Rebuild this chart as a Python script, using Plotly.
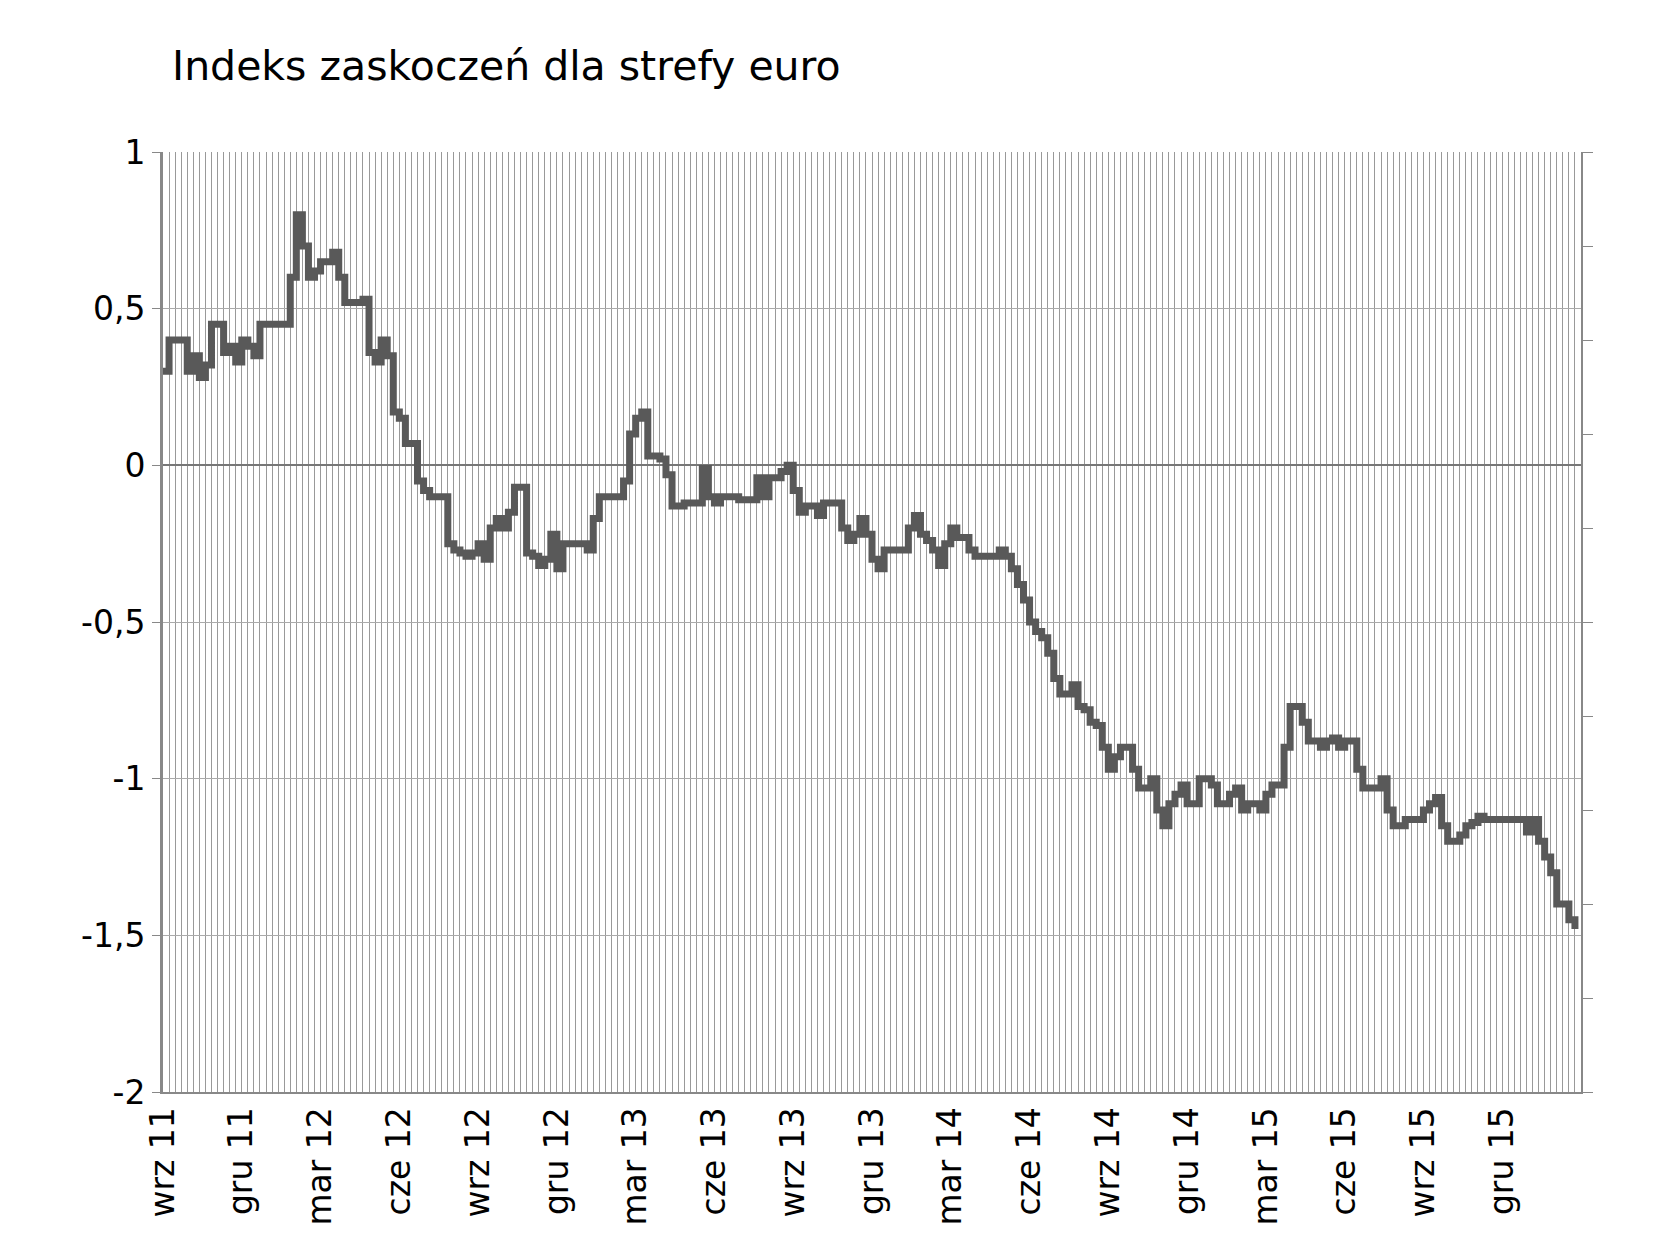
import plotly.graph_objects as go

# tygodniowe wartości indeksu (wrz 2011 - mar 2016)
values = [
    0.3, 0.4, 0.4, 0.4, 0.3, 0.35, 0.28, 0.32, 0.45, 0.45, 0.36, 0.38, 0.33,
    0.4, 0.38, 0.35, 0.45, 0.45, 0.45, 0.45, 0.45, 0.6, 0.8, 0.7, 0.6, 0.62,
    0.65, 0.65, 0.68, 0.6, 0.52, 0.52, 0.52, 0.53, 0.36, 0.33, 0.4, 0.35, 0.17,
    0.15, 0.07, 0.07, -0.05, -0.08, -0.1, -0.1, -0.1, -0.25, -0.27, -0.28, -0.29, -0.28,
    -0.25, -0.3, -0.2, -0.17, -0.2, -0.15, -0.07, -0.07, -0.28, -0.29, -0.32, -0.3, -0.22,
    -0.33, -0.25, -0.25, -0.25, -0.25, -0.27, -0.17, -0.1, -0.1, -0.1, -0.1, -0.05, 0.1,
    0.15, 0.17, 0.03, 0.03, 0.02, -0.03, -0.13, -0.13, -0.12, -0.12, -0.12, -0.01, -0.1,
    -0.12, -0.1, -0.1, -0.1, -0.11, -0.11, -0.11, -0.04, -0.1, -0.04, -0.04, -0.02, 0.0,
    -0.08, -0.15, -0.13, -0.13, -0.16, -0.12, -0.12, -0.12, -0.2, -0.24, -0.22, -0.17, -0.22,
    -0.3, -0.33, -0.27, -0.27, -0.27, -0.27, -0.2, -0.16, -0.22, -0.24, -0.27, -0.32, -0.25,
    -0.2, -0.23, -0.23, -0.27, -0.29, -0.29, -0.29, -0.29, -0.27, -0.29, -0.33, -0.38, -0.43,
    -0.5, -0.53, -0.55, -0.6, -0.68, -0.73, -0.73, -0.7, -0.77, -0.78, -0.82, -0.83, -0.9,
    -0.97, -0.93, -0.9, -0.9, -0.97, -1.03, -1.03, -1.0, -1.1, -1.15, -1.08, -1.05, -1.02,
    -1.08, -1.08, -1.0, -1.0, -1.02, -1.08, -1.08, -1.05, -1.03, -1.1, -1.08, -1.08, -1.1,
    -1.05, -1.02, -1.02, -0.9, -0.77, -0.77, -0.82, -0.88, -0.88, -0.9, -0.88, -0.87, -0.9,
    -0.88, -0.88, -0.97, -1.03, -1.03, -1.03, -1.0, -1.1, -1.15, -1.15, -1.13, -1.13, -1.13,
    -1.1, -1.08, -1.06, -1.15, -1.2, -1.2, -1.18, -1.15, -1.14, -1.12, -1.13, -1.13, -1.13,
    -1.13, -1.13, -1.13, -1.13, -1.17, -1.13, -1.2, -1.25, -1.3, -1.4, -1.4, -1.45, -1.48,
]
tick_labels = ["wrz 11", "gru 11", "mar 12", "cze 12", "wrz 12", "gru 12", "mar 13",
               "cze 13", "wrz 13", "gru 13", "mar 14", "cze 14", "wrz 14", "gru 14",
               "mar 15", "cze 15", "wrz 15", "gru 15"]
y_ticks = [1, 0.5, 0, -0.5, -1, -1.5, -2]
y_labels = ["1", "0,5", "0", "-0,5", "-1", "-1,5", "-2"]

weeks = list(range(len(values)))
tick_pos = [i * 13 for i in range(len(tick_labels))]

fig = go.Figure()
fig.add_trace(go.Scatter(x=weeks, y=values, mode="lines", line_shape="hv",
                         line=dict(color="#595959", width=7), showlegend=False))
# pusta oś prawa tylko dla znaczników
fig.add_trace(go.Scatter(x=[0], y=[0], yaxis="y2", mode="markers",
                         marker=dict(opacity=0), showlegend=False, hoverinfo="skip"))

font = dict(family="DejaVu Sans", size=33, color="black")
fig.update_layout(
    width=1674, height=1248,
    paper_bgcolor="white", plot_bgcolor="white",
    margin=dict(l=155, r=101, t=144, b=164),
    title=dict(text="Indeks zaskoczeń dla strefy euro", x=0.098, y=0.965,
               xanchor="left", font=dict(family="DejaVu Sans", size=41, color="black")),
    xaxis=dict(range=[0, len(values)], tickvals=tick_pos, ticktext=tick_labels,
               tickangle=-90, tickfont=font, showgrid=False, zeroline=False,
               showline=True, linecolor="#888", linewidth=2, ticks="",
               minor=dict(dtick=1, tick0=0, showgrid=True, gridcolor="#999", gridwidth=1)),
    yaxis=dict(range=[-2, 1], tickvals=y_ticks, ticktext=y_labels,
               tickfont=font, showgrid=True, gridcolor="#aaa", gridwidth=1,
               zeroline=True, zerolinecolor="#777", zerolinewidth=2,
               showline=True, linecolor="#888", linewidth=3,
               ticks="outside", ticklen=8, tickcolor="#888"),
    yaxis2=dict(range=[0, 10], dtick=1, overlaying="y", side="right",
                showticklabels=False, showgrid=False, zeroline=False,
                showline=True, linecolor="#888", linewidth=2,
                ticks="outside", ticklen=10, tickcolor="#888"),
)
fig.write_html("out.html")
